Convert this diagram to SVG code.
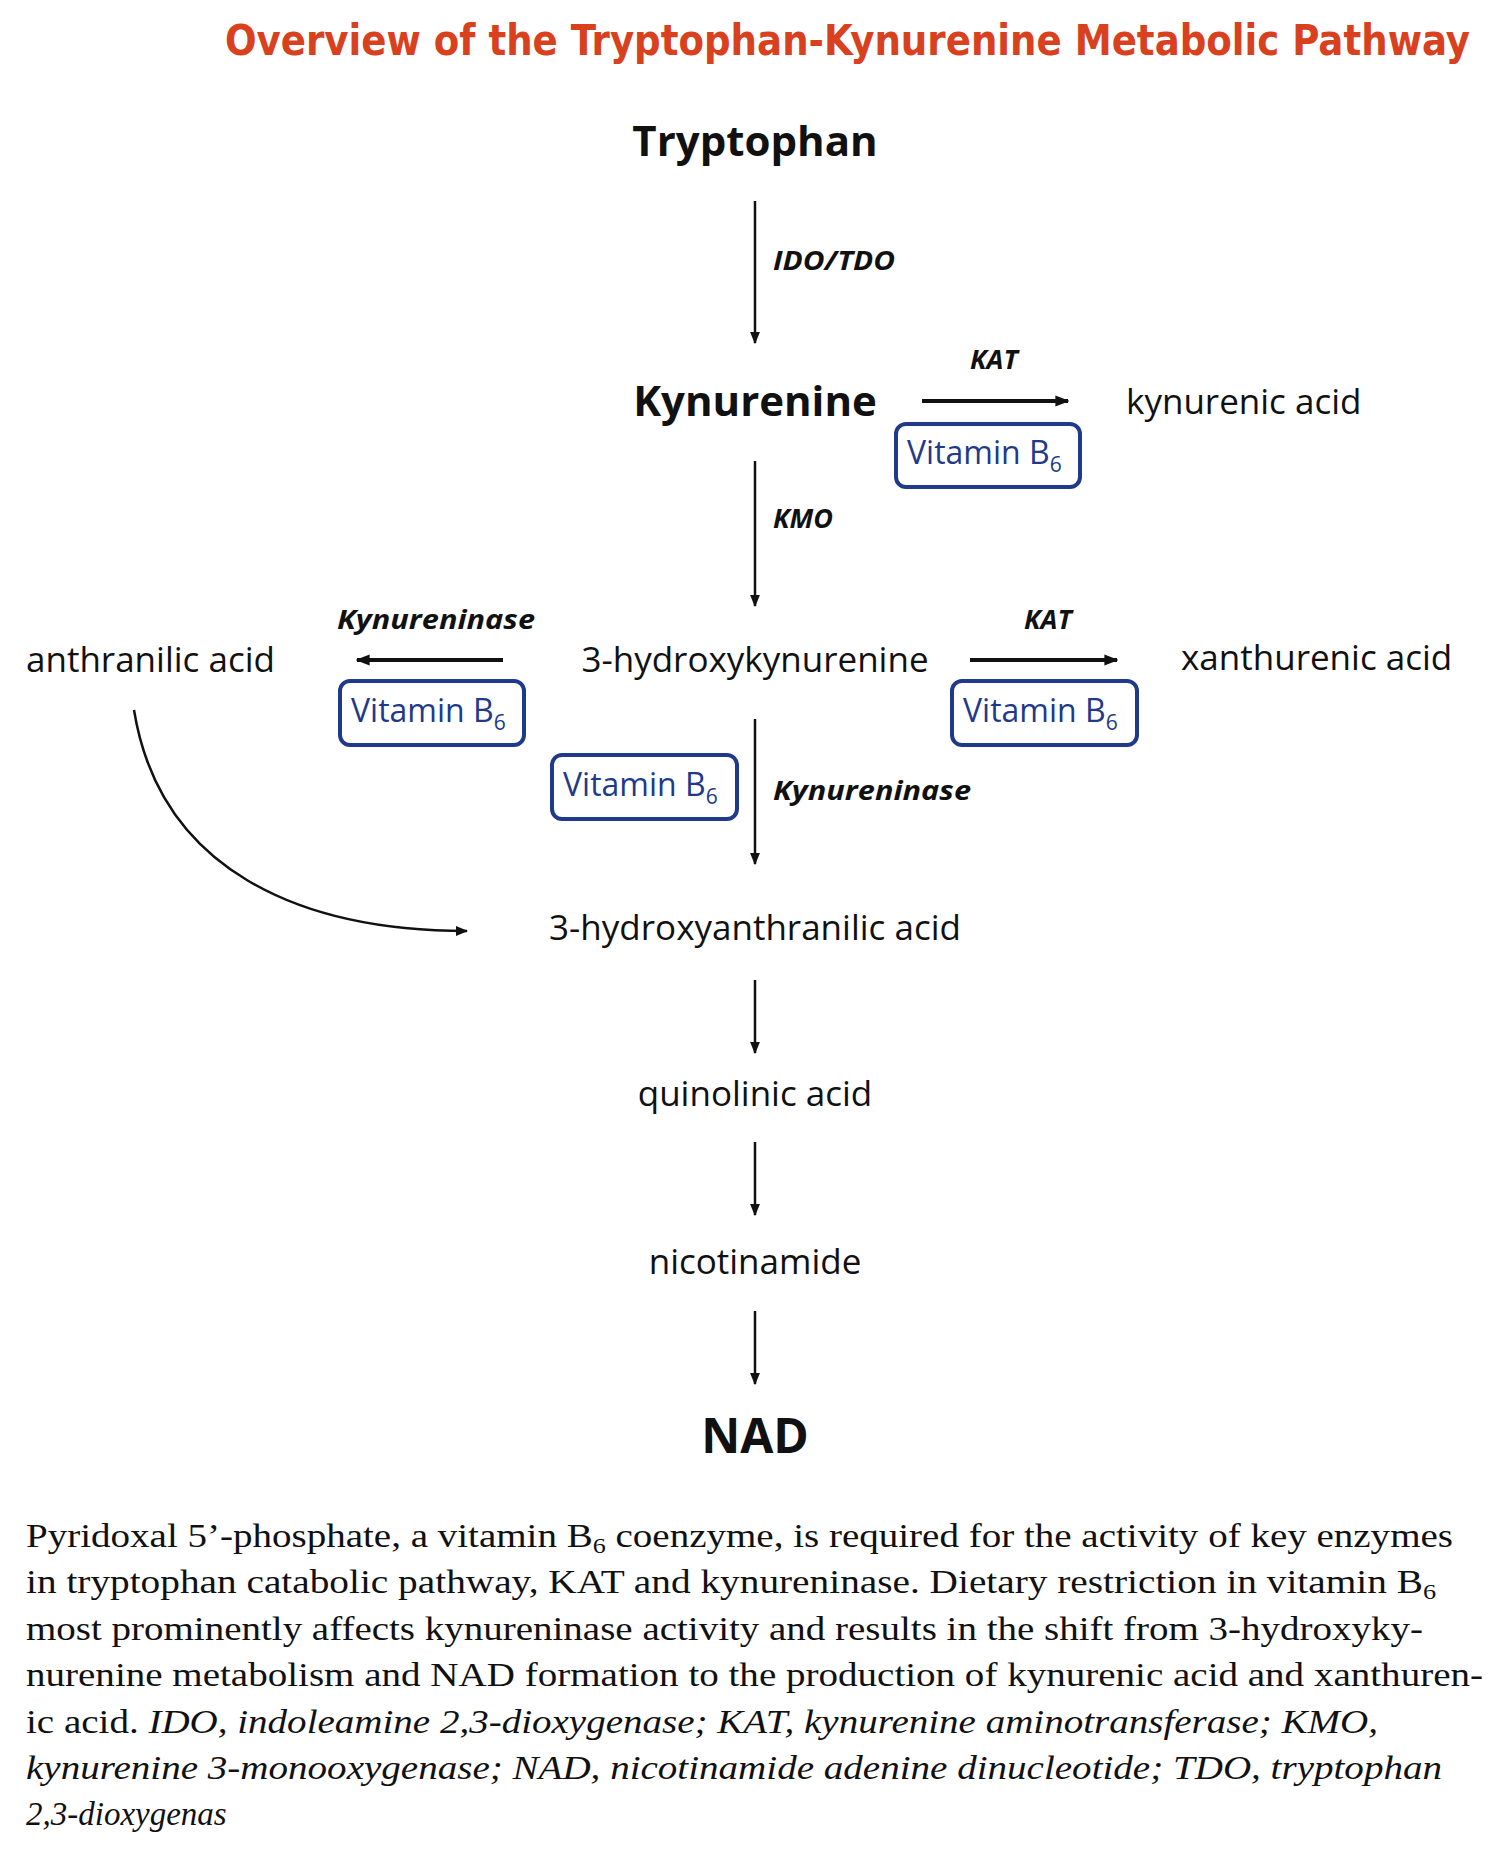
<svg xmlns="http://www.w3.org/2000/svg" width="1500" height="1859" viewBox="0 0 1500 1859">
<style>
.t{font-family:"Open Sans","Liberation Sans",sans-serif;fill:#111}
.b{font-weight:bold}
.m{font-size:35px;text-anchor:middle}
.e{font-family:"Open Sans","Liberation Sans",sans-serif;font-style:italic;font-weight:bold;font-size:27px;fill:#111}
.vb{fill:#fff;stroke:#1f3a8a;stroke-width:4}
.vt{font-family:"Open Sans","Liberation Sans",sans-serif;font-size:32px;fill:#1f3a8a}
.c{stroke:#111;stroke-width:2.5;fill:none}
.c2{stroke:#111;stroke-width:4;fill:none}
.p{font-family:"Liberation Serif",serif;font-size:33px;fill:#111}
</style>
<defs>
<marker id="a" viewBox="0 0 10 10" refX="9" refY="5" markerWidth="5" markerHeight="5" orient="auto" markerUnits="strokeWidth"><path d="M0,1 L10,5 L0,9 Z" fill="#111"/></marker>
<marker id="a2" viewBox="0 0 10 10" refX="9" refY="5" markerWidth="3.5" markerHeight="3.5" orient="auto" markerUnits="strokeWidth"><path d="M0,1 L10,5 L0,9 Z" fill="#111"/></marker>
</defs>
<rect width="1500" height="1859" fill="#fff"/>
<text x="225" y="55" textLength="1245" lengthAdjust="spacingAndGlyphs" style="font-family:'DejaVu Sans Condensed','Liberation Sans',sans-serif;font-weight:bold;font-size:42px;fill:#d9411e">Overview of the Tryptophan-Kynurenine Metabolic Pathway</text>
<g id="connectors">
<line class="c" x1="755" y1="201" x2="755" y2="343" marker-end="url(#a)"/>
<line class="c2" x1="922" y1="401" x2="1068" y2="401" marker-end="url(#a2)"/>
<line class="c" x1="755" y1="461" x2="755" y2="606" marker-end="url(#a)"/>
<line class="c2" x1="503" y1="660" x2="357" y2="660" marker-end="url(#a2)"/>
<line class="c2" x1="970" y1="660" x2="1117" y2="660" marker-end="url(#a2)"/>
<line class="c" x1="755" y1="719" x2="755" y2="864" marker-end="url(#a)"/>
<path class="c" d="M134,710 C160,870 300,931 467,931" marker-end="url(#a)"/>
<line class="c" x1="755" y1="980" x2="755" y2="1053" marker-end="url(#a)"/>
<line class="c" x1="755" y1="1142" x2="755" y2="1215" marker-end="url(#a)"/>
<line class="c" x1="755" y1="1311" x2="755" y2="1384" marker-end="url(#a)"/>
<text class="e" x="773" y="270" textLength="122" lengthAdjust="spacingAndGlyphs">IDO/TDO</text>
<text class="e" x="994" y="369" text-anchor="middle">KAT</text>
<text class="e" x="773" y="528">KMO</text>
<text class="e" x="337" y="629" textLength="198" lengthAdjust="spacingAndGlyphs">Kynureninase</text>
<text class="e" x="1048" y="629" text-anchor="middle">KAT</text>
<text class="e" x="773" y="800" textLength="198" lengthAdjust="spacingAndGlyphs">Kynureninase</text>
</g>
<g id="tryptophan"><text class="t b" x="755" y="156" text-anchor="middle" font-size="42">Tryptophan</text></g>
<g id="kynurenine"><text class="t b" x="755" y="416" text-anchor="middle" font-size="42">Kynurenine</text></g>
<g id="kynurenic"><text class="t" x="1126" y="414" font-size="35">kynurenic acid</text></g>
<g id="hk"><text class="t m" x="755" y="672">3-hydroxykynurenine</text></g>
<g id="anthranilic"><text class="t" x="26" y="672" font-size="35">anthranilic acid</text></g>
<g id="xanthurenic"><text class="t" x="1181" y="670" font-size="35">xanthurenic acid</text></g>
<g id="haa"><text class="t m" x="755" y="940">3-hydroxyanthranilic acid</text></g>
<g id="quinolinic"><text class="t m" x="755" y="1106">quinolinic acid</text></g>
<g id="nicotinamide"><text class="t m" x="755" y="1274">nicotinamide</text></g>
<g id="nad"><text class="t b" x="755" y="1453" text-anchor="middle" font-size="48">NAD</text></g>
<g id="vb1"><rect class="vb" x="896" y="424" width="184" height="63" rx="10"/><text class="vt" x="907" y="464">Vitamin B<tspan font-size="21" dy="8">6</tspan></text></g>
<g id="vb2"><rect class="vb" x="340" y="681" width="184" height="64" rx="10"/><text class="vt" x="351" y="722">Vitamin B<tspan font-size="21" dy="8">6</tspan></text></g>
<g id="vb3"><rect class="vb" x="952" y="681" width="185" height="64" rx="10"/><text class="vt" x="963" y="722">Vitamin B<tspan font-size="21" dy="8">6</tspan></text></g>
<g id="vb4"><rect class="vb" x="552" y="755" width="185" height="64" rx="10"/><text class="vt" x="563" y="796">Vitamin B<tspan font-size="21" dy="8">6</tspan></text></g>
<g id="caption">
<text class="p" x="26" y="1547" textLength="1427" lengthAdjust="spacingAndGlyphs">Pyridoxal 5’-phosphate, a vitamin B<tspan font-size="22" dy="6">6</tspan><tspan dy="-6"> coenzyme, is required for the activity of key enzymes</tspan></text>
<text class="p" x="26" y="1593" textLength="1410" lengthAdjust="spacingAndGlyphs">in tryptophan catabolic pathway, KAT and kynureninase. Dietary restriction in vitamin B<tspan font-size="22" dy="6">6</tspan></text>
<text class="p" x="26" y="1640" textLength="1397" lengthAdjust="spacingAndGlyphs">most prominently affects kynureninase activity and results in the shift from 3-hydroxyky-</text>
<text class="p" x="26" y="1686" textLength="1457" lengthAdjust="spacingAndGlyphs">nurenine metabolism and NAD formation to the production of kynurenic acid and xanthuren-</text>
<text class="p" x="26" y="1733" textLength="1352" lengthAdjust="spacingAndGlyphs">ic acid. <tspan font-style="italic">IDO, indoleamine 2,3-dioxygenase; KAT, kynurenine aminotransferase; KMO,</tspan></text>
<text class="p" x="26" y="1779" textLength="1416" lengthAdjust="spacingAndGlyphs" font-style="italic">kynurenine 3-monooxygenase; NAD, nicotinamide adenine dinucleotide; TDO, tryptophan</text>
<text class="p" x="26" y="1825" font-style="italic">2,3-dioxygenas</text>
</g>
</svg>
